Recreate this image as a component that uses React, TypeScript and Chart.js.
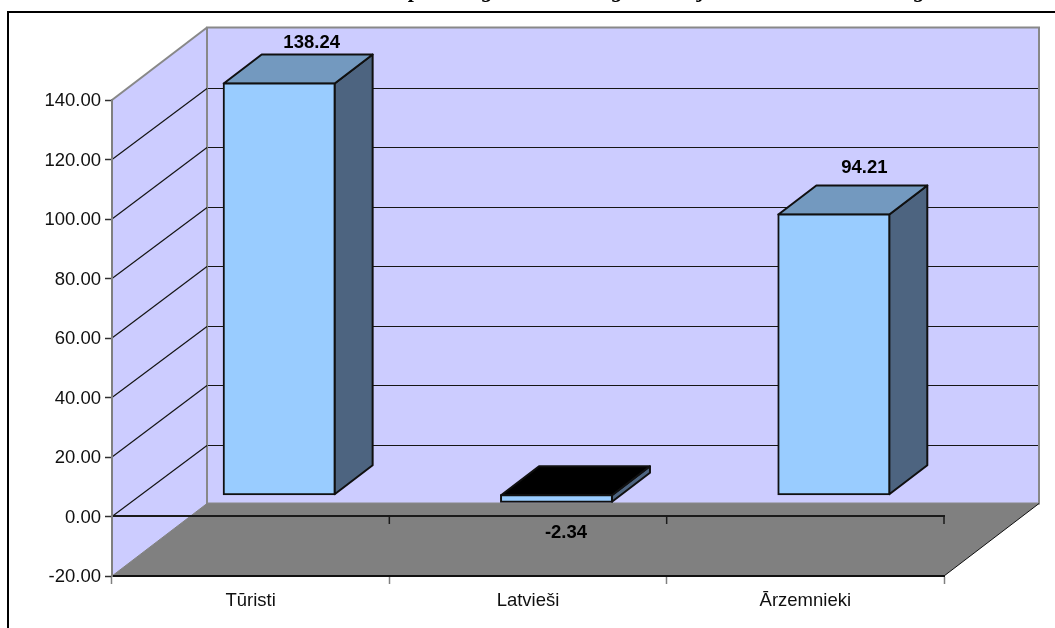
import React, { useEffect, useRef } from "react";
import { Chart, registerables } from "chart.js";

Chart.register(...registerables);

const categories = ["Tūristi", "Latvieši", "Ārzemnieki"];
const seriesValues = [138.24, -2.34, 94.21];
const wallGridValues = [0, 20, 40, 60, 80, 100, 120];
const clippedTitleGlyphs = ["p", "g", "g", "j", "g"];

const FONT = '"Liberation Sans", Arial, sans-serif';
const DEPTH_X = 95;
const DEPTH_Y = -72.5;
const BAR_NEAR = 0.3;
const BAR_DEPTH = 0.4;

const framePlugin = {
  id: "frame3d",
  beforeDraw(chart: any) {
    const { ctx, chartArea, scales } = chart;
    const { left, right, top, bottom } = chartArea;
    const y = scales.y;
    ctx.save();
    ctx.fillStyle = "#ffffff";
    ctx.fillRect(0, 0, chart.width, chart.height);

    // clipped title, only the descenders are inside the picture
    ctx.fillStyle = "#000000";
    ctx.font = 'italic bold 22px "Liberation Serif", serif';
    ctx.textAlign = "center";
    ctx.textBaseline = "alphabetic";
    const titleX = [415, 488, 618, 702, 920];
    clippedTitleGlyphs.forEach((g, i) => ctx.fillText(g, titleX[i], -3));

    // outer frame
    ctx.strokeStyle = "#000000";
    ctx.lineWidth = 2;
    ctx.beginPath();
    ctx.moveTo(8, chart.height);
    ctx.lineTo(8, 12);
    ctx.lineTo(chart.width, 12);
    ctx.stroke();

    // walls
    const poly = (pts: number[][], fill?: string, stroke?: string, lw = 1) => {
      ctx.beginPath();
      pts.forEach((p, i) => (i ? ctx.lineTo(p[0], p[1]) : ctx.moveTo(p[0], p[1])));
      ctx.closePath();
      if (fill) {
        ctx.fillStyle = fill;
        ctx.fill();
      }
      if (stroke) {
        ctx.strokeStyle = stroke;
        ctx.lineWidth = lw;
        ctx.stroke();
      }
    };
    const bl = left + DEPTH_X;
    const br = right + DEPTH_X;
    const bt = top + DEPTH_Y;
    const bb = bottom + DEPTH_Y;
    poly([[left, top], [bl, bt], [bl, bb], [left, bottom]], "#CCCCFF");
    poly([[bl, bt], [br, bt], [br, bb], [bl, bb]], "#CCCCFF", "#888888", 2);
    ctx.strokeStyle = "#888888";
    ctx.lineWidth = 2;
    ctx.beginPath();
    ctx.moveTo(left, top);
    ctx.lineTo(bl, bt);
    ctx.stroke();

    wallGridValues.forEach((v) => {
      const raw = y.getPixelForValue(v);
      const backY = Math.floor(raw + DEPTH_Y + 1) + 0.5;
      ctx.strokeStyle = "#151515";
      ctx.lineWidth = 1.2;
      ctx.beginPath();
      ctx.moveTo(left, raw);
      ctx.lineTo(bl, backY);
      ctx.stroke();
      ctx.lineWidth = 1;
      ctx.beginPath();
      ctx.moveTo(bl + 1, backY);
      ctx.lineTo(br - 1, backY);
      ctx.stroke();
    });

    // floor
    poly([[left, bottom], [bl, bb], [br, bb], [right, bottom]], "#808080");
    ctx.strokeStyle = "#808080";
    ctx.lineWidth = 1;
    ctx.beginPath();
    ctx.moveTo(left, bottom);
    ctx.lineTo(bl, bb);
    ctx.stroke();
    ctx.strokeStyle = "#101010";
    ctx.beginPath();
    ctx.moveTo(br, bb);
    ctx.lineTo(right, bottom);
    ctx.stroke();

    // zero axis with its ticks
    const zero = y.getPixelForValue(0) - 0.5;
    const step = (right - left) / categories.length;
    ctx.strokeStyle = "#1a1a1a";
    ctx.lineWidth = 2;
    ctx.beginPath();
    ctx.moveTo(left, zero);
    ctx.lineTo(right + 1, zero);
    ctx.stroke();
    ctx.lineWidth = 1.5;
    ctx.beginPath();
    for (let i = 0; i <= categories.length; i++) {
      ctx.moveTo(left + i * step, zero);
      ctx.lineTo(left + i * step, zero + 8);
    }
    ctx.stroke();
    ctx.restore();
  },
  beforeDatasetDraw(chart: any, args: any) {
    const { ctx } = chart;
    const sx = DEPTH_X * BAR_NEAR;
    const sy = DEPTH_Y * BAR_NEAR;
    const bx = DEPTH_X * BAR_DEPTH;
    const by = DEPTH_Y * BAR_DEPTH;
    ctx.save();
    ctx.translate(sx, sy);
    args.meta.data.forEach((el: any, i: number) => {
      const l = el.x - el.width / 2;
      const r = el.x + el.width / 2;
      const t = Math.min(el.y, el.base);
      const b = Math.max(el.y, el.base);
      const face = (pts: number[][], fill: string) => {
        ctx.beginPath();
        pts.forEach((p, k) => (k ? ctx.lineTo(p[0], p[1]) : ctx.moveTo(p[0], p[1])));
        ctx.closePath();
        ctx.fillStyle = fill;
        ctx.fill();
        ctx.strokeStyle = "#101010";
        ctx.lineWidth = 2;
        ctx.lineJoin = "round";
        ctx.stroke();
      };
      face([[r, t], [r + bx, t + by], [r + bx, b + by], [r, b]], "#4D6480");
      face(
        [[l, t], [l + bx, t + by], [r + bx, t + by], [r, t]],
        seriesValues[i] < 0 ? "#000000" : "#7399BF"
      );
    });
  },
  afterDatasetDraw(chart: any) {
    chart.ctx.restore();
  },
  afterDatasetsDraw(chart: any) {
    const { ctx } = chart;
    const meta = chart.getDatasetMeta(0);
    const dx = [61, 38, 59];
    const dy = [-41, 0, -47];
    ctx.save();
    ctx.font = `bold 18.5px ${FONT}`;
    ctx.fillStyle = "#000000";
    ctx.textAlign = "center";
    ctx.textBaseline = "middle";
    meta.data.forEach((el: any, i: number) => {
      const isNeg = seriesValues[i] < 0;
      const py = isNeg ? el.base + 15.5 : el.y + DEPTH_Y * BAR_NEAR + dy[i];
      ctx.fillText(seriesValues[i].toFixed(2), el.x + dx[i], py);
    });
    ctx.restore();
  },
};

export default function App() {
  const ref = useRef<HTMLCanvasElement>(null);
  useEffect(() => {
    const chart = new Chart(ref.current as HTMLCanvasElement, {
      type: "bar",
      data: {
        labels: categories,
        datasets: [
          {
            data: seriesValues,
            backgroundColor: "#99CCFF",
            borderColor: "#101010",
            borderWidth: 2,
            borderSkipped: false,
            categoryPercentage: 1,
            barPercentage: 0.4,
            inflateAmount: 1,
            clip: false,
          } as any,
        ],
      },
      options: {
        responsive: false,
        animation: false,
        layout: { padding: { left: 0, top: 100, right: 111, bottom: 0 } },
        plugins: {
          legend: { display: false },
          title: { display: false },
          tooltip: { enabled: false },
        },
        scales: {
          x: {
            grid: {
              drawOnChartArea: false,
              drawTicks: true,
              tickLength: 8,
              tickColor: "#808080",
              tickWidth: 1.5,
              offset: true,
            },
            border: { color: "#101010", width: 2 },
            ticks: {
              font: { family: FONT, size: 18.5 },
              color: "#101010",
              padding: 6,
              maxRotation: 0,
            },
            afterFit(scale: any) {
              scale.height = 52;
            },
          },
          y: {
            min: -20,
            max: 140,
            grid: {
              drawOnChartArea: false,
              drawTicks: true,
              tickLength: 7,
              tickColor: "#303030",
              tickWidth: 1.5,
            },
            border: { color: "#808080", width: 2 },
            ticks: {
              stepSize: 20,
              font: { family: FONT, size: 18.5 },
              color: "#101010",
              padding: 4,
              labelOffset: 1,
              callback: (v: any) => Number(v).toFixed(2),
            },
            afterFit(scale: any) {
              scale.width = 112;
            },
          },
        },
      } as any,
      plugins: [framePlugin as any],
    });
    return () => chart.destroy();
  }, []);
  return (
    <div style={{ position: "fixed", left: 0, top: 0, width: 1055, height: 628 }}>
      <canvas ref={ref} width={1055} height={628} style={{ display: "block" }} />
    </div>
  );
}
